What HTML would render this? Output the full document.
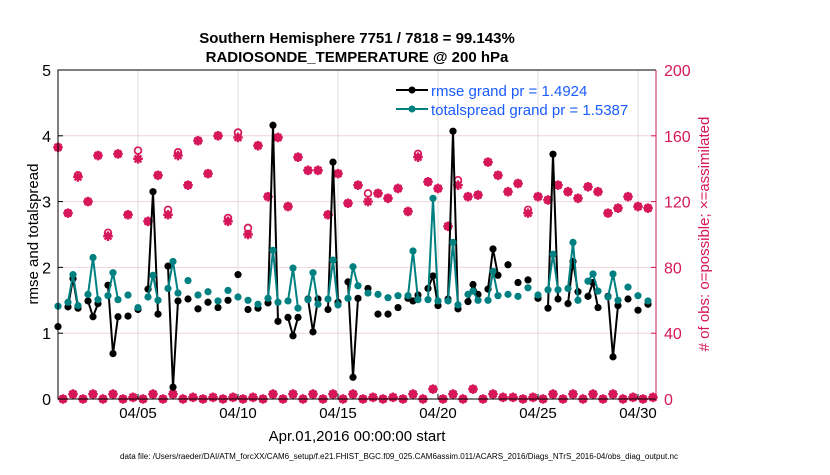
<!DOCTYPE html>
<html><head><meta charset="utf-8"><style>
body{margin:0;background:#fff;}
svg text{font-family:"Liberation Sans",Arial,sans-serif;}
</style></head><body>
<svg id="chart" width="830" height="470" viewBox="0 0 830 470" xmlns="http://www.w3.org/2000/svg">
<rect width="830" height="470" fill="#fff"/>
<text x="357" y="43" text-anchor="middle" font-size="15" font-weight="bold">Southern Hemisphere 7751 / 7818 = 99.143%</text>
<text x="357" y="62" text-anchor="middle" font-size="15" font-weight="bold">RADIOSONDE_TEMPERATURE @ 200 hPa</text>
<g id="grid"></g>
<g id="marks"></g>
<g id="axes"></g>
<text transform="translate(38,234) rotate(-90)" text-anchor="middle" font-size="15">rmse and totalspread</text>
<text transform="translate(709,234) rotate(-90)" text-anchor="middle" font-size="15" fill="#d6175a"># of obs: o=possible; ×=assimilated</text>
<text x="357" y="441" text-anchor="middle" font-size="15">Apr.01,2016 00:00:00 start</text>
<text x="399" y="459" text-anchor="middle" font-size="8" textLength="558" lengthAdjust="spacingAndGlyphs">data file: /Users/raeder/DAI/ATM_forcXX/CAM6_setup/f.e21.FHIST_BGC.f09_025.CAM6assim.011/ACARS_2016/Diags_NTrS_2016-04/obs_diag_output.nc</text>
<g>
<line x1="396" y1="90" x2="428" y2="90" stroke="#000" stroke-width="2"/>
<circle cx="412" cy="90" r="3.5" fill="#000"/>
<text x="431" y="96" font-size="15" fill="#1a5cff">rmse grand pr = 1.4924</text>
<line x1="396" y1="109" x2="428" y2="109" stroke="#008080" stroke-width="2"/>
<circle cx="412" cy="109" r="3.5" fill="#008080"/>
<text x="431" y="115" font-size="15" fill="#1a5cff">totalspread grand pr = 1.5387</text>
</g>
</svg>
<script>
const rmse=[1.10,null,1.40,1.83,1.38,null,1.49,1.25,1.45,null,1.73,0.69,1.25,null,1.26,null,1.36,null,1.67,3.15,1.29,null,2.02,0.18,1.49,null,1.52,null,1.37,null,1.47,null,1.39,null,1.50,null,1.89,null,1.36,null,1.38,null,1.46,4.16,1.18,null,1.24,0.96,1.24,null,1.52,1.02,1.52,null,1.36,3.60,1.47,null,1.78,0.33,1.53,null,1.68,null,1.29,null,1.29,null,1.39,null,1.53,1.49,1.58,null,1.68,1.87,1.42,null,1.52,4.07,1.37,null,1.48,1.74,1.59,null,1.67,2.28,1.88,null,2.04,null,1.77,null,1.81,null,1.53,null,1.38,3.72,1.52,null,1.45,2.09,1.63,null,1.56,1.77,1.39,null,1.56,0.64,1.42,null,1.52,null,1.35,null,1.44,null];
const spread=[1.41,null,1.47,1.89,1.42,null,1.59,2.15,1.51,null,1.57,1.92,1.51,null,1.58,null,1.39,null,1.55,1.88,1.50,null,1.68,2.09,1.61,null,1.80,null,1.58,null,1.63,null,1.49,null,1.65,null,1.55,null,1.50,null,1.44,null,1.53,2.26,1.47,null,1.49,1.99,1.38,null,1.51,1.92,1.44,null,1.52,2.11,1.43,null,1.53,2.01,1.72,null,1.61,null,1.59,null,1.54,null,1.57,null,1.57,2.25,1.51,null,1.51,3.05,1.49,null,1.49,2.38,1.43,null,1.59,1.64,1.50,null,1.50,1.94,1.57,null,1.59,null,1.56,null,1.69,null,1.58,null,1.66,2.20,1.66,null,1.68,2.38,1.50,null,1.79,1.90,1.64,null,1.55,1.90,1.50,null,1.70,null,1.57,null,1.49,null];
const nAssim=[153,0,113,3,135,0,120,3,148,0,99,3,149,0,112,1,146,0,108,3,136,0,112,3,148,0,130,1,157,0,137,1,160,0,108,1,159,0,100,1,154,0,123,3,159,0,117,3,147,0,139,3,139,0,112,3,137,0,119,3,130,0,120,1,125,0,122,1,128,0,114,3,147,0,132,6,128,0,105,3,130,0,123,6,124,0,144,3,136,1,126,1,131,0,113,1,123,0,121,3,130,0,126,3,122,0,129,3,126,0,113,3,116,0,123,1,117,0,116,1];
const nPoss=[153,0,113,3,136,0,120,3,148,0,101,3,149,0,112,1,151,0,108,3,136,0,115,3,150,0,130,1,157,0,137,1,160,0,110,1,162,0,104,1,154,0,123,3,159,0,117,3,147,0,139,3,139,0,112,3,137,0,119,3,130,0,125,1,125,0,122,1,128,0,114,3,149,0,132,6,128,0,105,3,133,0,123,6,124,0,144,3,136,1,126,1,131,0,115,1,123,0,121,3,130,0,126,3,122,0,129,3,126,0,113,3,116,0,123,1,117,0,116,1];
const xTickDays=[4,9,14,19,24,29];
const xTickLabels=["04/05","04/10","04/15","04/20","04/25","04/30"];
const yTicks=[0,1,2,3,4,5];
const y2Ticks=[0,40,80,120,160,200];

const NS="http://www.w3.org/2000/svg";
const X0=58,X1=656,Y0=399,Y1=70,DMAX=29.9;
const xs=d=>X0+(X1-X0)*d/DMAX;
const ys=v=>Y0-(Y0-Y1)*v/5;
const ys2=v=>Y0-(Y0-Y1)*v/200;
const MAG="#d6175a",CY="#008080";
function mk(tag,attrs,parent){const e=document.createElementNS(NS,tag);for(const k in attrs)e.setAttribute(k,attrs[k]);parent.appendChild(e);return e;}
const grid=document.getElementById('grid'),marks=document.getElementById('marks'),axes=document.getElementById('axes');
xTickDays.forEach((d,i)=>{
  const l=mk('line',{x1:xs(d),x2:xs(d),y1:Y1,y2:Y0,stroke:'#dcdcdc','stroke-width':1},grid);
  
  
  const t=mk('line',{x1:xs(d),x2:xs(d),y1:Y0,y2:Y0-5,stroke:'#000','stroke-width':1},axes);
  
  
  const tx=mk('text',{x:xs(d),y:418,'text-anchor':'middle','font-size':15},axes);
  tx.textContent=xTickLabels[i];
  
  
});
yTicks.forEach(v=>{
  if(v>0&&v<5){const l=mk('line',{x1:X0,x2:X1,y1:ys(v),y2:ys(v),stroke:'#f0d4de','stroke-width':1},grid);
  
  }
  const t=mk('line',{x1:X0,x2:X0+5,y1:ys(v),y2:ys(v),stroke:'#000'},axes);
  
  
  const tx=mk('text',{x:51,y:ys(v)+6,'text-anchor':'end','font-size':16},axes);
  tx.textContent=v;
  
  
});
y2Ticks.forEach(v=>{
  const t=mk('line',{x1:X1,x2:X1-5,y1:ys2(v),y2:ys2(v),stroke:MAG},axes);
  
  
  const tx=mk('text',{x:664,y:ys2(v)+6,'font-size':16,fill:MAG},axes);
  tx.textContent=v;
  
  
});
const box1=mk('path',{d:`M${X1},${Y1}H${X0}V${Y0}H${X1}`,fill:'none',stroke:'#000','stroke-width':1},axes);


const rax=mk('line',{x1:X1,x2:X1,y1:Y1,y2:Y0,stroke:MAG,'stroke-width':1},axes);



nPoss.forEach((n,i)=>{
  const c=mk('circle',{cx:xs(i*0.25),cy:ys2(n),r:3.4,fill:'none',stroke:MAG,'stroke-width':1.7},marks);
  
  
});
nAssim.forEach((n,i)=>{
  const x=xs(i*0.25),y=ys2(n),r=4.8;
  const p=mk('path',{d:`M${x-r},${y}H${x+r}M${x},${y-r}V${y+r}M${x-3.4},${y-3.4}L${x+3.4},${y+3.4}M${x-3.4},${y+3.4}L${x+3.4},${y-3.4}`,stroke:MAG,'stroke-width':2.4,fill:'none'},marks);
  
  
  const c=mk('circle',{cx:x,cy:y,r:2.8,fill:MAG},marks);
  
  
});
function series(arr,color,name){
  let d='',pen=false;
  arr.forEach((v,i)=>{if(v===null){pen=false;return;}d+=(pen?'L':'M')+xs(i*0.25)+','+ys(v);pen=true;});
  const p=mk('path',{d:d,fill:'none',stroke:color,'stroke-width':2,'stroke-linejoin':'round'},marks);
  
  
  arr.forEach((v,i)=>{if(v===null)return;
    const c=mk('circle',{cx:xs(i*0.25),cy:ys(v),r:3.6,fill:color},marks);
    
    });
}
series(rmse,'#000','rmse');
series(spread,CY,'totalspread');
</script>
</body></html>
